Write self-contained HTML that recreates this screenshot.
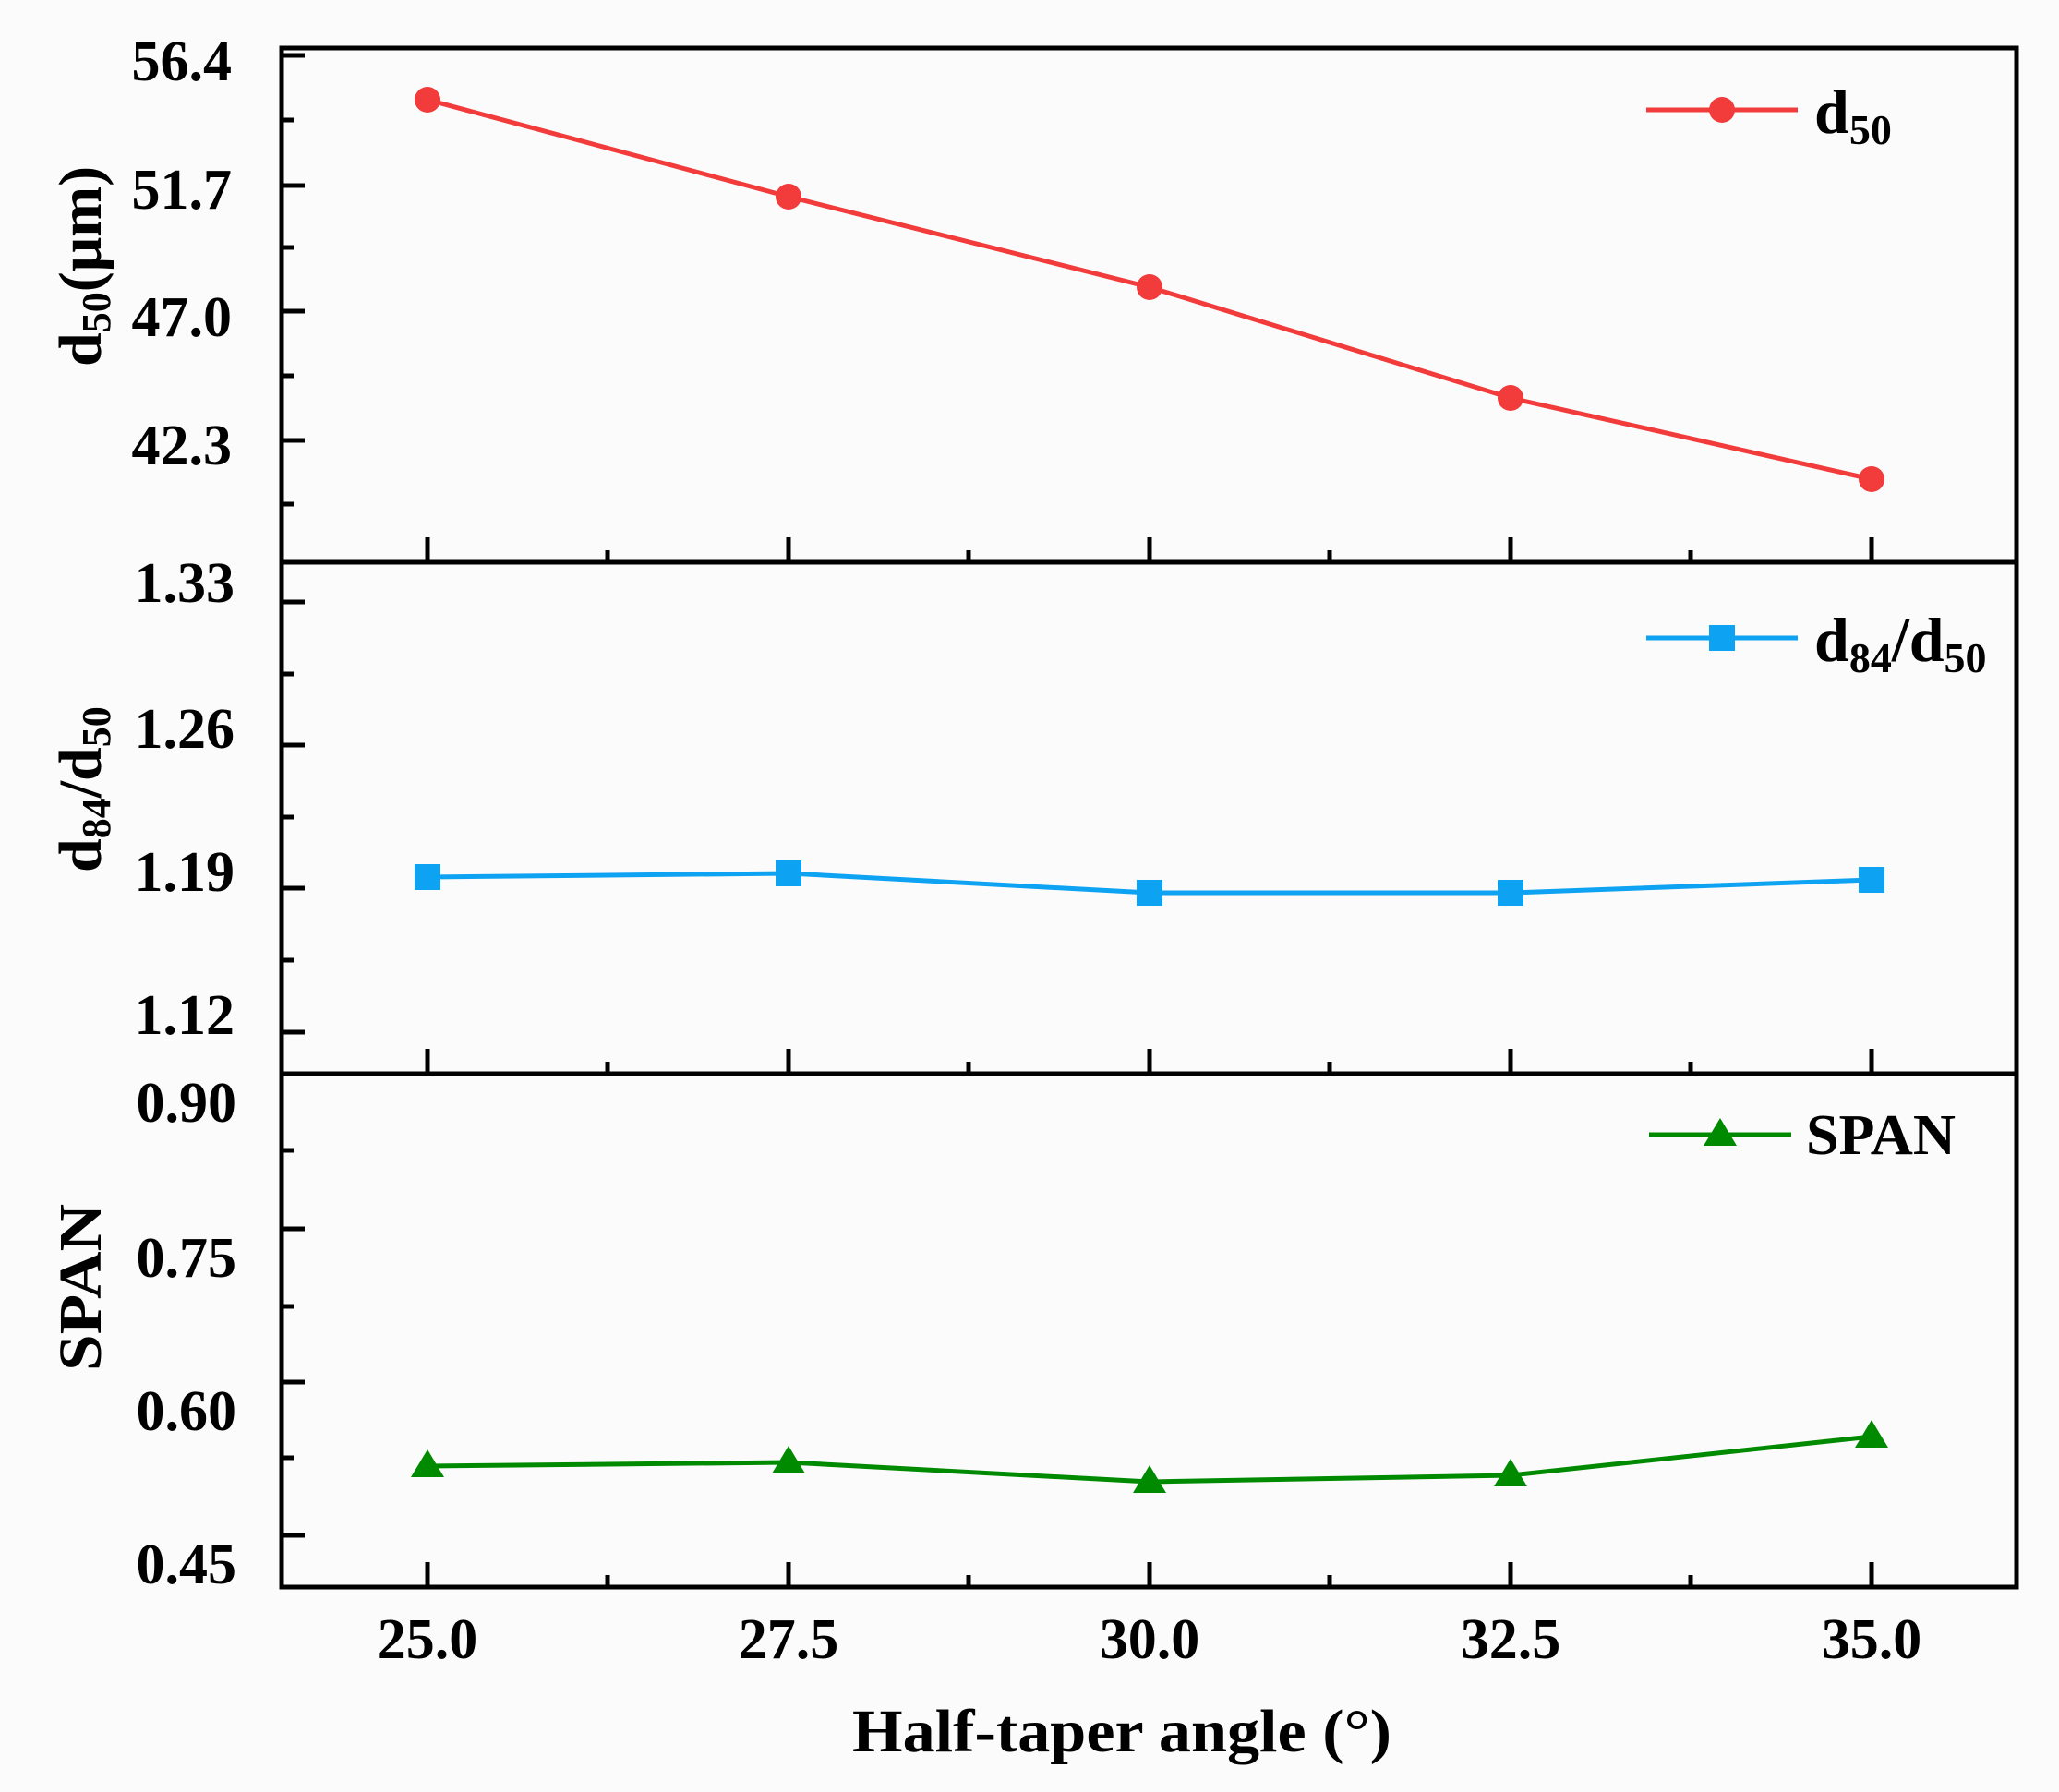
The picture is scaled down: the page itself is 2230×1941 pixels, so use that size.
<!DOCTYPE html>
<html><head><meta charset="utf-8"><style>
html,body{margin:0;padding:0;background:#fbfbfb;}
svg{display:block;}
text{font-family:"Liberation Serif",serif;font-weight:bold;fill:#000;}
</style></head><body>
<svg width="2230" height="1941" viewBox="0 0 2230 1941" xmlns="http://www.w3.org/2000/svg">
<rect width="2230" height="1941" fill="#fbfbfb"/>
<!-- frames -->
<g stroke="#000" stroke-width="5" fill="none">
<rect x="305" y="52" width="1879" height="1667"/>
<line x1="305" y1="609" x2="2184" y2="609"/>
<line x1="305" y1="1163" x2="2184" y2="1163"/>
</g>
<!-- y ticks -->
<g stroke="#000" stroke-width="5">
<!-- top -->
<line x1="305" y1="60" x2="330" y2="60"/><line x1="305" y1="130" x2="318" y2="130"/>
<line x1="305" y1="201" x2="330" y2="201"/><line x1="305" y1="268" x2="318" y2="268"/>
<line x1="305" y1="337" x2="330" y2="337"/><line x1="305" y1="407" x2="318" y2="407"/>
<line x1="305" y1="477" x2="330" y2="477"/><line x1="305" y1="546" x2="318" y2="546"/>
<!-- mid -->
<line x1="305" y1="652" x2="330" y2="652"/><line x1="305" y1="730" x2="318" y2="730"/>
<line x1="305" y1="807" x2="330" y2="807"/><line x1="305" y1="885" x2="318" y2="885"/>
<line x1="305" y1="962" x2="330" y2="962"/><line x1="305" y1="1040" x2="318" y2="1040"/>
<line x1="305" y1="1118" x2="330" y2="1118"/>
<!-- bottom -->
<line x1="305" y1="1246" x2="318" y2="1246"/><line x1="305" y1="1331" x2="330" y2="1331"/>
<line x1="305" y1="1415" x2="318" y2="1415"/><line x1="305" y1="1497" x2="330" y2="1497"/>
<line x1="305" y1="1579" x2="318" y2="1579"/><line x1="305" y1="1663" x2="330" y2="1663"/>
</g>
<!-- x ticks -->
<g stroke="#000" stroke-width="5">
<line x1="463" y1="609" x2="463" y2="582"/><line x1="854" y1="609" x2="854" y2="582"/><line x1="1245" y1="609" x2="1245" y2="582"/><line x1="1636" y1="609" x2="1636" y2="582"/><line x1="2027" y1="609" x2="2027" y2="582"/>
<line x1="658" y1="609" x2="658" y2="596"/><line x1="1049" y1="609" x2="1049" y2="596"/><line x1="1440" y1="609" x2="1440" y2="596"/><line x1="1831" y1="609" x2="1831" y2="596"/>
<line x1="463" y1="1163" x2="463" y2="1136"/><line x1="854" y1="1163" x2="854" y2="1136"/><line x1="1245" y1="1163" x2="1245" y2="1136"/><line x1="1636" y1="1163" x2="1636" y2="1136"/><line x1="2027" y1="1163" x2="2027" y2="1136"/>
<line x1="658" y1="1163" x2="658" y2="1150"/><line x1="1049" y1="1163" x2="1049" y2="1150"/><line x1="1440" y1="1163" x2="1440" y2="1150"/><line x1="1831" y1="1163" x2="1831" y2="1150"/>
<line x1="463" y1="1719" x2="463" y2="1692"/><line x1="854" y1="1719" x2="854" y2="1692"/><line x1="1245" y1="1719" x2="1245" y2="1692"/><line x1="1636" y1="1719" x2="1636" y2="1692"/><line x1="2027" y1="1719" x2="2027" y2="1692"/>
<line x1="658" y1="1719" x2="658" y2="1706"/><line x1="1049" y1="1719" x2="1049" y2="1706"/><line x1="1440" y1="1719" x2="1440" y2="1706"/><line x1="1831" y1="1719" x2="1831" y2="1706"/>
</g>
<!-- y tick labels -->
<g font-size="62" text-anchor="end">
<text x="251" y="87">56.4</text><text x="251" y="226">51.7</text><text x="251" y="364">47.0</text><text x="251" y="503">42.3</text>
<text x="254" y="652">1.33</text><text x="254" y="810">1.26</text><text x="254" y="965">1.19</text><text x="254" y="1120">1.12</text>
<text x="256" y="1215">0.90</text><text x="256" y="1383">0.75</text><text x="256" y="1549">0.60</text><text x="256" y="1715">0.45</text>
</g>
<!-- x tick labels -->
<g font-size="62" text-anchor="middle">
<text x="463" y="1796">25.0</text><text x="854" y="1796">27.5</text><text x="1245" y="1796">30.0</text><text x="1636" y="1796">32.5</text><text x="2027" y="1796">35.0</text>
</g>
<text x="923" y="1897" font-size="66" textLength="584" lengthAdjust="spacingAndGlyphs">Half-taper angle (°)</text>
<!-- y titles -->
<text transform="translate(109,397) rotate(-90)" font-size="66">d<tspan font-size="44" dy="10">50</tspan><tspan dy="-10">(μm)</tspan></text>
<text transform="translate(109,945) rotate(-90)" font-size="66">d<tspan font-size="44" dy="10">84</tspan><tspan dy="-10">/d</tspan><tspan font-size="44" dy="10">50</tspan></text>
<text transform="translate(109,1485) rotate(-90)" font-size="66" textLength="181" lengthAdjust="spacingAndGlyphs">SPAN</text>
<!-- series d50 -->
<polyline points="463,108 854,213 1245,311 1636,431 2027,519" fill="none" stroke="#f23b3b" stroke-width="5"/>
<g fill="#f23b3b"><circle cx="463" cy="108" r="14"/><circle cx="854" cy="213" r="14"/><circle cx="1245" cy="311" r="14"/><circle cx="1636" cy="431" r="14"/><circle cx="2027" cy="519" r="14"/></g>
<!-- series d84/d50 -->
<polyline points="463,950 854,946 1245,967 1636,967 2027,953" fill="none" stroke="#0ea2f2" stroke-width="5"/>
<g fill="#0ea2f2"><rect x="449" y="936" width="28" height="28"/><rect x="840" y="932" width="28" height="28"/><rect x="1231" y="953" width="28" height="28"/><rect x="1622" y="953" width="28" height="28"/><rect x="2013" y="939" width="28" height="28"/></g>
<!-- series SPAN -->
<polyline points="463,1588 854,1584 1245,1605 1636,1598 2027,1556" fill="none" stroke="#008a00" stroke-width="5"/>
<g fill="#008a00">
<polygon points="463,1570 445,1600 481,1600"/><polygon points="854,1566 836,1596 872,1596"/><polygon points="1245,1587 1227,1617 1263,1617"/><polygon points="1636,1580 1618,1610 1654,1610"/><polygon points="2027,1538 2009,1568 2045,1568"/>
</g>
<!-- legends -->
<line x1="1783" y1="119" x2="1947" y2="119" stroke="#f23b3b" stroke-width="5"/>
<circle cx="1865" cy="119" r="14" fill="#f23b3b"/>
<text x="1965" y="144" font-size="68">d<tspan font-size="46" dy="12">50</tspan></text>
<line x1="1783" y1="691" x2="1947" y2="691" stroke="#0ea2f2" stroke-width="5"/>
<rect x="1851" y="677" width="28" height="28" fill="#0ea2f2"/>
<text x="1965" y="716" font-size="68">d<tspan font-size="46" dy="12">84</tspan><tspan dy="-12">/d</tspan><tspan font-size="46" dy="12">50</tspan></text>
<line x1="1786" y1="1229" x2="1940" y2="1229" stroke="#008a00" stroke-width="5"/>
<polygon points="1863,1211 1845,1241 1881,1241" fill="#008a00"/>
<text x="1956" y="1250" font-size="62" textLength="162" lengthAdjust="spacingAndGlyphs">SPAN</text>
</svg>
</body></html>
